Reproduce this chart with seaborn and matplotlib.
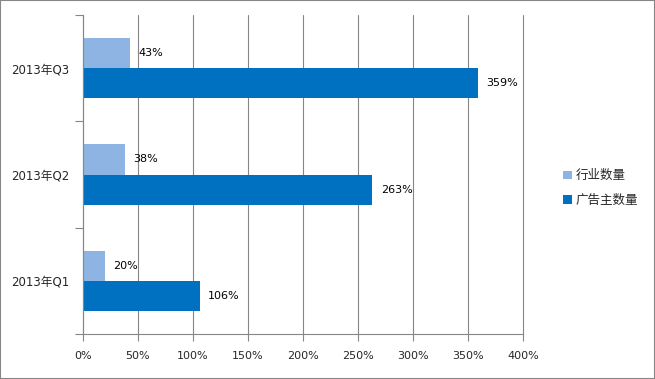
import matplotlib
matplotlib.use("Agg")
import matplotlib.pyplot as plt
import seaborn as sns
import pandas as pd
from matplotlib.ticker import FixedLocator, FuncFormatter
from matplotlib.patches import Rectangle

categories = ["2013年Q3", "2013年Q2", "2013年Q1"]
series_names = ["行业数量", "广告主数量"]
industry = [43, 38, 20]
advertisers = [359, 263, 106]
x_ticks = [0, 50, 100, 150, 200, 250, 300, 350, 400]
colors = ["#8EB4E3", "#0070C0"]

sns.set_theme(style="white")
plt.rcParams["font.family"] = ["DejaVu Sans", "Noto Sans CJK SC"]

df = pd.DataFrame({
    "cat": categories * 2,
    "series": [series_names[0]] * 3 + [series_names[1]] * 3,
    "val": industry + advertisers,
})

fig = plt.figure(figsize=(6.55, 3.79), dpi=100)
ax = fig.add_axes([83/655, 1-334/379, 440/655, 319/379])
sns.barplot(data=df, y="cat", x="val", hue="series", hue_order=series_names,
            order=categories, palette=colors, orient="h", width=0.57, gap=0,
            saturation=1, ax=ax, legend=True, linewidth=0, edgecolor="none")

for cont in ax.containers:
    ax.bar_label(cont, labels=[f"{int(v)}%" for v in cont.datavalues], padding=6,
                 fontsize=8, color="black")

ax.set_xlim(0, 400)
ax.set_ylim(2.5, -0.5)
ax.xaxis.set_major_locator(FixedLocator(x_ticks))
ax.xaxis.set_major_formatter(FuncFormatter(lambda v, p: f"{int(v)}%"))
ax.grid(axis="x", color="#868686", linewidth=0.8)
ax.grid(axis="y", visible=False)
for gl in ax.get_xgridlines():
    gl.set_clip_on(False)
ax.set_axisbelow(True)
ax.set_xlabel("")
ax.set_ylabel("")
for s in ["top", "right"]:
    ax.spines[s].set_visible(False)
for s in ["left", "bottom"]:
    ax.spines[s].set_color("#868686")
    ax.spines[s].set_linewidth(0.8)
ax.tick_params(axis="x", which="major", length=5, width=0.8, color="#868686", labelsize=8,
               bottom=True, direction="out", pad=7)
ax.tick_params(axis="y", which="major", length=0, labelsize=8.5, pad=10)
ax.yaxis.set_minor_locator(FixedLocator([-0.5, 0.5, 1.5, 2.5]))
ax.tick_params(axis="y", which="minor", length=6, width=0.8, color="#868686", left=True, direction="out")

handles, labels = ax.get_legend_handles_labels()
ax.legend(handles, labels, loc="center left", bbox_to_anchor=(1.065, 0.458), frameon=False,
          fontsize=9, handlelength=0.7, handleheight=0.7, handletextpad=0.35,
          labelspacing=0.9)

fig.patches.append(Rectangle((0, 0), 1, 1, transform=fig.transFigure, fill=False,
                             edgecolor="#868686", linewidth=1.5))
fig.savefig("out.png", dpi=100)
